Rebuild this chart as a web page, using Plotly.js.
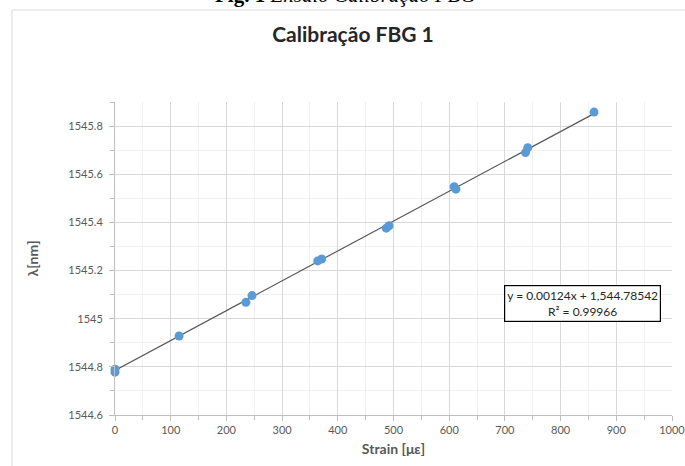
<!DOCTYPE html>
<html>
<head>
<meta charset="utf-8">
<script src="https://cdn.plot.ly/plotly-3.0.1.min.js"></script>
<style>html,body{margin:0;padding:0;background:#fff;}#chart{width:685px;height:466px;}</style>
</head>
<body>
<div id="chart"></div>
<script>
// Measured points: strain (µε) and Bragg wavelength (nm)
const strain = [0, 0, 115, 235, 246, 364, 371, 487, 492, 609, 612, 737, 741, 860];
const lambda = [1544.790, 1544.778, 1544.928, 1545.068, 1545.096, 1545.240, 1545.248, 1545.376, 1545.386, 1545.548, 1545.538, 1545.690, 1545.710, 1545.858];

// Linear trendline shown on the chart
const slope = 0.00124;
const intercept = 1544.78542;
const trendX = [0, 860];
const trendY = trendX.map(x => slope * x + intercept);

const xTicks = [0, 100, 200, 300, 400, 500, 600, 700, 800, 900, 1000];
const yTicks = [1544.6, 1544.8, 1545, 1545.2, 1545.4, 1545.6, 1545.8];
const yTickText = ['1544.6', '1544.8', '1545', '1545.2', '1545.4', '1545.6', '1545.8'];

const chartTitle = 'Calibração FBG 1';
const caption = '<b>Fig. 1</b> <i>Ensaio Calibração FBG</i>';
const eqText = 'y = 0.00124x + 1,544.78542<br>R² = 0.99966';

const font = 'Lato, "Open Sans", "Liberation Sans", sans-serif';

const traces = [
  {
    x: trendX, y: trendY, type: 'scatter', mode: 'lines',
    line: {color: '#595959', width: 1.2}, hoverinfo: 'skip', showlegend: false, cliponaxis: false
  },
  {
    x: strain, y: lambda, type: 'scatter', mode: 'markers',
    marker: {color: '#5b9bd5', size: 9}, showlegend: false, cliponaxis: false
  }
];

const layout = {
  width: 685, height: 466,
  margin: {l: 115, r: 13, t: 102, b: 51},
  paper_bgcolor: '#ffffff', plot_bgcolor: '#ffffff',
  font: {family: font, color: '#595959', size: 11},
  title: {
    text: '<b>' + chartTitle + '</b>',
    font: {family: font, size: 21, color: '#262626'},
    x: 353/685, xanchor: 'center', y: 1 - 35/466, yanchor: 'middle', yref: 'container'
  },
  xaxis: {
    range: [0, 1000], tickvals: xTicks, ticktext: xTicks.map(String),
    showgrid: true, gridcolor: '#d9d9d9', gridwidth: 1,
    minor: {dtick: 50, showgrid: true, gridcolor: '#f0f0f0', ticks: 'outside', ticklen: 4, tickcolor: '#bfbfbf'},
    ticks: 'outside', ticklen: 5, tickcolor: '#bfbfbf',
    showline: true, linecolor: '#bfbfbf', linewidth: 1,
    zeroline: false, ticklabeloverflow: 'allow',
    tickfont: {family: font, size: 11, color: '#595959'},
    title: {text: '<b>Strain [με]</b>', font: {family: font, size: 14, color: '#595959'}, standoff: 8}
  },
  yaxis: {
    range: [1544.6, 1545.9], tickvals: yTicks, ticktext: yTickText,
    showgrid: true, gridcolor: '#d9d9d9', gridwidth: 1,
    minor: {dtick: 0.1, showgrid: true, gridcolor: '#f0f0f0', ticks: 'outside', ticklen: 4, tickcolor: '#bfbfbf'},
    ticks: 'outside', ticklen: 5, tickcolor: '#bfbfbf',
    showline: true, linecolor: '#bfbfbf', linewidth: 1,
    zeroline: false, ticklabelstandoff: 4,
    tickfont: {family: font, size: 11, color: '#595959'},
    title: {text: '<b>λ[nm]</b>', font: {family: font, size: 14, color: '#595959'}, standoff: 26}
  },
  shapes: [
    {type: 'rect', xref: 'paper', yref: 'paper',
     x0: (12 - 115) / 557, x1: 1.2, y0: -0.5, y1: (415 - 10) / 313,
     line: {color: '#d9d9d9', width: 1}, fillcolor: 'rgba(0,0,0,0)', layer: 'below'}
  ],
  annotations: [
    {text: caption, xref: 'paper', yref: 'paper', x: (345 - 115) / 557, y: (415 - 9) / 313,
     xanchor: 'center', yanchor: 'bottom', showarrow: false,
     font: {family: '"Liberation Serif", "Times New Roman", serif', size: 21, color: '#000000'}},
    {text: eqText, xref: 'paper', yref: 'paper', x: (582 - 115) / 557, y: (415 - 303) / 313,
     xanchor: 'center', yanchor: 'middle', showarrow: false, align: 'center',
     bgcolor: '#ffffff', bordercolor: '#000000', borderwidth: 1.2, borderpad: 2,
     font: {family: font, size: 12, color: '#262626'}}
  ]
};

Plotly.newPlot('chart', traces, layout, {displayModeBar: false, staticPlot: true});
</script>
</body>
</html>
